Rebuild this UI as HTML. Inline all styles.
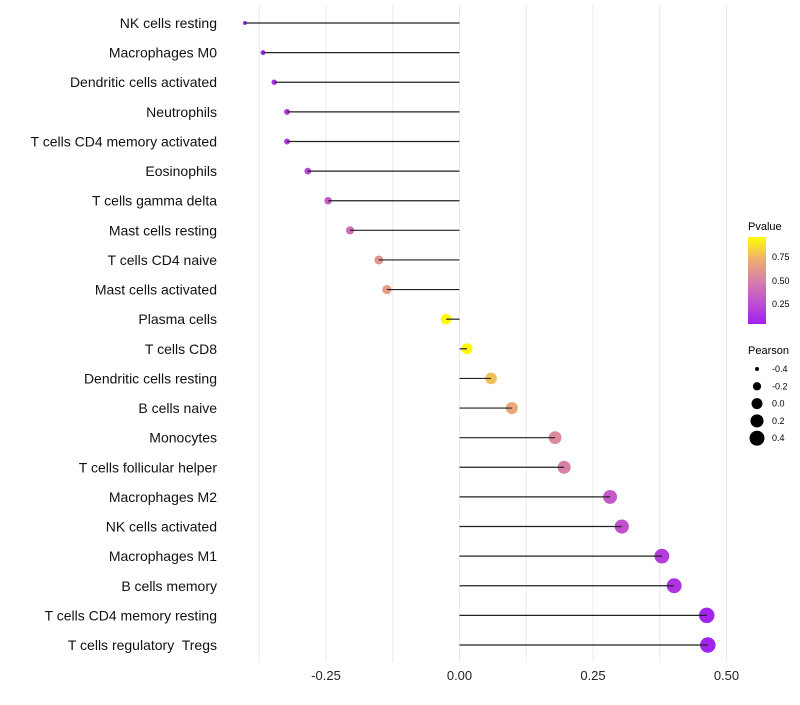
<!DOCTYPE html>
<html><head><meta charset="utf-8"><style>
body{margin:0;background:#fff;font-family:"Liberation Sans",sans-serif}
svg text{font-family:"Liberation Sans",sans-serif}
</style></head><body>
<svg id="chart" width="800" height="700" xmlns="http://www.w3.org/2000/svg">
<g id="grid"></g>
<g id="marks"></g>
<g id="labels"></g>
<g id="xticks"></g>
<g id="legend">
<defs><linearGradient id="pg" x1="0" y1="1" x2="0" y2="0">
<stop offset="0" stop-color="#a020f0"/><stop offset="0.25" stop-color="#c050d0"/><stop offset="0.5" stop-color="#d880a8"/><stop offset="0.75" stop-color="#eeb070"/><stop offset="1" stop-color="#ffff00"/></linearGradient></defs>
<text x="748" y="230" font-size="11">Pvalue</text>
<rect x="748" y="237" width="18" height="87" fill="url(#pg)"/>
<text x="772" y="260" font-size="9">0.75</text>
<text x="772" y="284" font-size="9">0.50</text>
<text x="772" y="307" font-size="9">0.25</text>
<text x="748" y="354" font-size="11">Pearson</text>
<g id="sizeleg"></g>
</g>
</svg>
<script>
const categories=["NK cells resting","Macrophages M0","Dendritic cells activated","Neutrophils","T cells CD4 memory activated","Eosinophils","T cells gamma delta","Mast cells resting","T cells CD4 naive","Mast cells activated","Plasma cells","T cells CD8","Dendritic cells resting","B cells naive","Monocytes","T cells follicular helper","Macrophages M2","NK cells activated","Macrophages M1","B cells memory","T cells CD4 memory resting","T cells regulatory  Tregs"];
const pearson=[-0.402,-0.368,-0.347,-0.323,-0.323,-0.284,-0.246,-0.205,-0.151,-0.136,-0.025,0.014,0.059,0.098,0.179,0.196,0.282,0.304,0.379,0.402,0.463,0.465];
const pvalue=[0.05,0.06,0.08,0.15,0.15,0.2,0.3,0.4,0.6,0.65,0.98,0.98,0.8,0.7,0.55,0.5,0.3,0.25,0.15,0.1,0.02,0.02];
const xTicks=[-0.25,0,0.25,0.5];
const xTickLabels=["-0.25","0.00","0.25","0.50"];
const minorTicks=[-0.375,-0.125,0.125,0.375];
const sizeLegend=[-0.4,-0.2,0,0.2,0.4];
const sizeLegendLabels=["-0.4","-0.2","0.0","0.2","0.4"];

const NS="http://www.w3.org/2000/svg";
const xs=v=>459.5+v*534;
const ys=i=>23+i*(622/21);
const rs=v=>Math.sqrt(Math.max(2,30+65*v));
const stops=[[0,[160,32,240]],[0.25,[192,80,208]],[0.5,[216,128,168]],[0.75,[238,176,112]],[1,[255,255,0]]];
function col(p){for(let i=0;i<stops.length-1;i++){const[a,ca]=stops[i],[b,cb]=stops[i+1];if(p<=b){const t=(p-a)/(b-a);return`rgb(${ca.map((c,k)=>Math.round(c+(cb[k]-c)*t)).join(",")})`;}}return"rgb(255,255,0)";}
function mk(tag,at,parent){const e=document.createElementNS(NS,tag);for(const k in at)e.setAttribute(k,at[k]);parent.appendChild(e);return e;}
const grid=document.getElementById("grid"),marks=document.getElementById("marks"),labels=document.getElementById("labels"),xt=document.getElementById("xticks"),sl=document.getElementById("sizeleg");
minorTicks.concat(xTicks).forEach(v=>{const l=mk("line",{x1:xs(v),x2:xs(v),y1:5,y2:662,stroke:"#ebebeb","stroke-width":1},grid);

});
xTicks.forEach((v,i)=>{const t=mk("text",{x:xs(v),y:680,"font-size":13,"text-anchor":"middle",fill:"#222"},xt);t.textContent=xTickLabels[i];

});
categories.forEach((c,i)=>{const y=ys(i);
const t=mk("text",{x:217,y:y+5,"font-size":14,"text-anchor":"end",fill:"#111",style:"white-space:pre"},labels);t.textContent=c;


const c1=mk("circle",{cx:xs(pearson[i]),cy:y,r:rs(pearson[i]),fill:col(pvalue[i])},marks);


const l=mk("line",{x1:xs(0),x2:xs(pearson[i]),y1:y,y2:y,stroke:"#222","stroke-width":1.2},marks);

});
sizeLegend.forEach((v,i)=>{const y=369+i*17.3;
const c=mk("circle",{cx:757,cy:y,r:rs(v),fill:"#000"},sl);


const t=mk("text",{x:772,y:y+3,"font-size":9},sl);t.textContent=sizeLegendLabels[i];

});
</script>
</body></html>
